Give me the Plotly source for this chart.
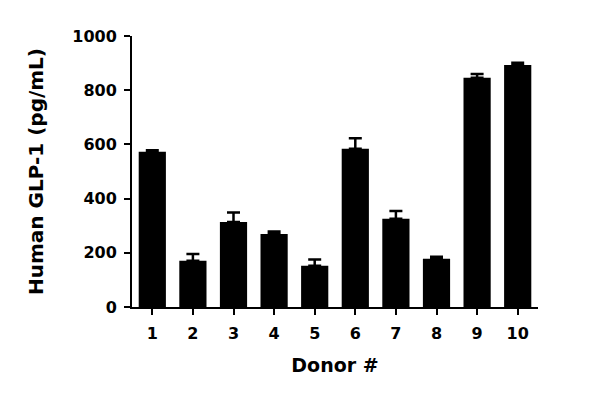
import plotly.graph_objects as go

donors = [1, 2, 3, 4, 5, 6, 7, 8, 9, 10]
glp1_mean = [573, 171, 314, 269, 152, 584, 326, 178, 846, 893]
glp1_err = [5, 25, 35, 10, 23, 39, 28, 7, 14, 8]
y_ticks = [0, 200, 400, 600, 800, 1000]

FONT = "DejaVu Sans"

fig = go.Figure()
fig.add_trace(go.Bar(
    x=donors,
    y=glp1_mean,
    width=0.67,
    marker=dict(color="black", line=dict(width=0)),
    error_y=dict(type="data", array=glp1_err, symmetric=False,
                 arrayminus=[0] * len(glp1_err),
                 color="black", thickness=2.5, width=6.5),
))

fig.update_layout(
    width=592, height=389,
    margin=dict(l=124, r=62, t=28, b=90),
    plot_bgcolor="white", paper_bgcolor="white",
    showlegend=False,
    font=dict(family=FONT, color="black"),
)
fig.update_xaxes(
    range=[0.5, 10.5], tickmode="array", tickvals=donors,
    ticktext=[str(d) for d in donors],
    showline=True, linecolor="black", linewidth=2,
    ticks="outside", ticklen=6, tickwidth=2, tickcolor="black",
    tickfont=dict(family=FONT, size=16, weight="bold"),
    ticklabelstandoff=5,
    showgrid=False, zeroline=False,
    title=dict(text="<b>Donor #</b>", font=dict(family=FONT, size=19), standoff=16),
)
fig.update_yaxes(
    range=[0, 1000], tickmode="array", tickvals=y_ticks,
    showline=True, linecolor="black", linewidth=2,
    ticks="outside", ticklen=6, tickwidth=2, tickcolor="black",
    tickfont=dict(family=FONT, size=16, weight="bold"),
    ticklabelstandoff=4,
    showgrid=False, zeroline=False,
    title=dict(text="<b>Human GLP-1 (pg/mL)</b>", font=dict(family=FONT, size=20), standoff=23),
)

fig.write_html("out.html")
